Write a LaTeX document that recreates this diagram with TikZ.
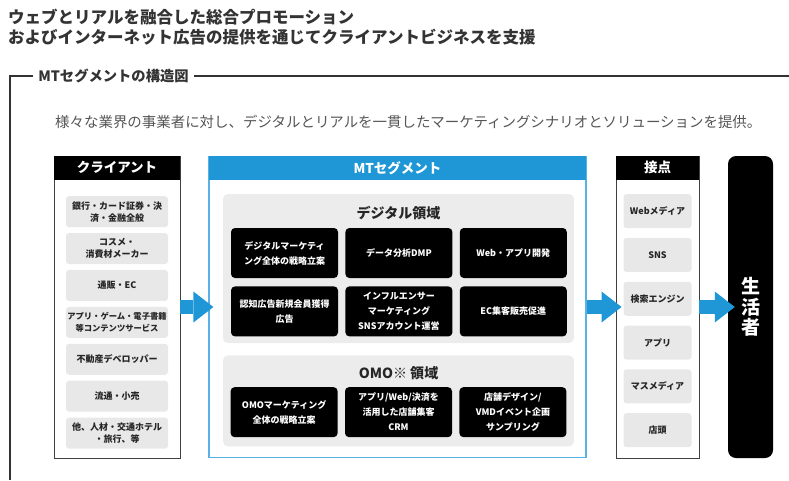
\documentclass[tikz,border=0pt]{standalone}
\usepackage{fontspec}
\setmainfont{Noto Sans CJK JP}
\usepackage{tikz}
\usetikzlibrary{arrows.meta,positioning}
\definecolor{mtblue}{HTML}{1F97D6}
\definecolor{mtedge}{HTML}{5AB2E4}
\definecolor{cardgray}{HTML}{E8E8E8}
\definecolor{areagray}{HTML}{ECECEC}
\definecolor{ink}{HTML}{333333}
\definecolor{subink}{HTML}{555555}
\tikzset{
  col/.style={draw=black!75, line width=0.9pt, minimum width=#1, minimum height=302pt, inner sep=0pt},
  hd/.style={fill=black, text=white, minimum width=#1, minimum height=24pt, inner sep=0pt, anchor=north, font=\bfseries\fontsize{13.5}{14}\selectfont},
  card/.style={fill=cardgray, rounded corners=3pt, minimum width=#1, align=center, inner sep=0pt, text=black!85, font=\bfseries\fontsize{9}{12}\selectfont},
  area/.style={fill=areagray, rounded corners=5pt, minimum width=351pt, inner sep=0pt},
  atl/.style={inner sep=0pt, text=black!85, font=\bfseries\fontsize{14}{15}\selectfont},
  blk/.style={fill=black, text=white, rounded corners=4pt, minimum width=107pt, minimum height=50pt, align=center, inner sep=0pt, font=\bfseries\fontsize{9}{15}\selectfont},
  arr/.style={mtblue, line width=14pt, -{Triangle[length=20pt, width=31pt, line width=0pt]}},
  frm/.style={draw=ink, line width=1.3pt}
}
\begin{document}
\begin{tikzpicture}[x=1pt, y=-1pt, node distance=6pt]
  \useasboundingbox (0,0) rectangle (789,480);
  \node[anchor=north west, align=left, inner sep=0pt, text=ink, font=\bfseries\fontsize{16.5}{19.5}\selectfont] (ttl) at (8,9) {ウェブとリアルを融合した総合プロモーション\\およびインターネット広告の提供を通じてクライアントビジネスを支援};
  \node[inner sep=5pt, text=ink, font=\bfseries\fontsize{14.3}{15}\selectfont] (frt) at (113.5,76) {MTセグメントの構造図};
  \coordinate (fl) at (10,76); \coordinate (fb) at (10,480); \coordinate (fr) at (789,76);
  \draw[frm] (fb) -- (fl) -- (frt.west);
  \draw[frm] (frt.east) -- (fr);
  \node[anchor=west, inner sep=0pt, text=subink, font=\fontsize{14.45}{15}\selectfont] (sub) at (55,122) {様々な業界の事業者に対し、デジタルとリアルを一貫したマーケティングシナリオとソリューションを提供。};

  \node[col=126pt] (cl) at (117,307) {};
  \node[hd=126pt] (clh) at (cl.north) {クライアント};
  \node[card=102pt, minimum height=31pt, below=16pt of clh] (c1) {銀行・カード証券・決\\済・金融全般};
  \node[card=102pt, minimum height=31pt, below=5.5pt of c1] (c2) {コスメ・\\消費材メーカー};
  \node[card=102pt, minimum height=31pt, below=5.5pt of c2] (c3) {通販・EC};
  \node[card=102pt, minimum height=31pt, below=5.5pt of c3, font=\bfseries\fontsize{8.3}{12}\selectfont] (c4) {アプリ・ゲーム・電子書籍\\等コンテンツサービス};
  \node[card=102pt, minimum height=31pt, below=5.5pt of c4] (c5) {不動産デベロッパー};
  \node[card=102pt, minimum height=31pt, below=5.5pt of c5] (c6) {流通・小売};
  \node[card=102pt, minimum height=31pt, below=5.5pt of c6] (c7) {他、人材・交通ホテル\\・旅行、等};

  \node[draw=mtedge, line width=1.2pt, minimum width=377pt, minimum height=301pt, inner sep=0pt] (mt) at (397.5,307) {};
  \node[hd=377pt, fill=mtblue] (mth) at (mt.north) {MTセグメント};
  \node[area, minimum height=149pt] (dg) at (398.5,268.5) {};
  \node[atl, below=12pt of dg.north] (dgt) {デジタル領域};
  \node[blk] (d1) at (284.5,253) {デジタルマーケティ\\ング全体の戦略立案};
  \node[blk, right=7pt of d1] (d2) {データ分析DMP};
  \node[blk, right=7pt of d2] (d3) {Web・アプリ開発};
  \node[blk, below=8pt of d1] (d4) {認知広告新規会員獲得\\広告};
  \node[blk, right=7pt of d4] (d5) {インフルエンサー\\マーケティング\\SNSアカウント運営};
  \node[blk, right=7pt of d5] (d6) {EC集客販売促進};
  \node[area, minimum height=91pt, below=12pt of dg] (om) {};
  \node[atl, below=11pt of om.north] (omt) {OMO※ 領域};
  \node[blk, below=7pt of omt] (o2) {アプリ/Web/決済を\\活用した店舗集客\\CRM};
  \node[blk, left=7pt of o2] (o1) {OMOマーケティング\\全体の戦略立案};
  \node[blk, right=7pt of o2] (o3) {店舗デザイン/\\VMDイベント企画\\サンプリング};

  \node[col=83pt] (tp) at (657.5,307) {};
  \node[hd=83pt] (tph) at (tp.north) {接点};
  \node[card=68pt, minimum height=34pt, below=14pt of tph] (t1) {Webメディア};
  \node[card=68pt, minimum height=34pt, below=9.4pt of t1] (t2) {SNS};
  \node[card=68pt, minimum height=34pt, below=9.4pt of t2] (t3) {検索エンジン};
  \node[card=68pt, minimum height=34pt, below=9.4pt of t3] (t4) {アプリ};
  \node[card=68pt, minimum height=34pt, below=9.4pt of t4] (t5) {マスメディア};
  \node[card=68pt, minimum height=34pt, below=9.4pt of t5] (t6) {店頭};

  \node[fill=black, rounded corners=8pt, minimum width=45pt, minimum height=302pt, align=center, text=white, font=\bfseries\fontsize{19}{20.5}\selectfont] (cs) at (750.5,307) {生\\活\\者};

  \draw[arr, shorten >=-5pt] (cl) -- (mt);
  \draw[arr, shorten >=-6pt] (mt) -- (tp);
  \draw[arr, shorten >=-7pt] (tp) -- (cs);
\end{tikzpicture}
\end{document}
